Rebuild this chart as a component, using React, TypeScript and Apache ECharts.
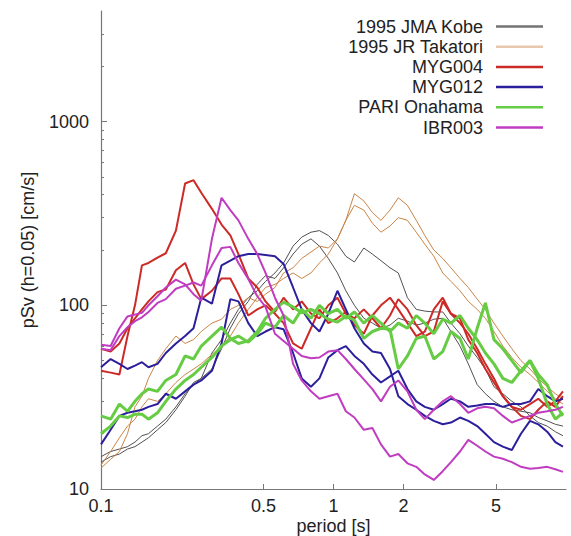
import { useEffect, useRef } from "react";
import * as echarts from "echarts";

// Periods [s] shared by all curves
const PERIODS = [0.1, 0.11, 0.12, 0.13, 0.14, 0.15, 0.16, 0.175, 0.19, 0.21, 0.23, 0.25, 0.27, 0.3, 0.33, 0.36, 0.39, 0.43, 0.47, 0.51, 0.56, 0.61, 0.67, 0.73, 0.8, 0.87, 0.95, 1.04, 1.13, 1.23, 1.35, 1.47, 1.6, 1.75, 1.9, 2.08, 2.27, 2.47, 2.7, 2.95, 3.2, 3.5, 3.8, 4.15, 4.5, 4.9, 5.35, 5.85, 6.4, 7.0, 7.6, 8.3, 9.0, 9.7];

// pSv [cm/s], two horizontal components per station
const KOBE_1 = [15, 16, 16.5, 17, 18, 19.5, 20, 22, 24, 28, 33, 37, 40, 55, 65, 80, 95, 110, 120, 135, 150, 170, 210, 235, 250, 255, 240, 215, 185, 172, 205, 190, 175, 160, 150, 110, 95, 93, 92, 92, 80, 70, 60, 52, 45, 36, 33, 30, 28, 25, 23, 22, 20.5, 19.5];
const KOBE_2 = [14, 15, 15.5, 16.5, 17, 18, 19, 21, 23, 27, 32, 38, 40, 45, 58, 75, 90, 105, 130, 145, 140, 160, 190, 215, 230, 210, 180, 150, 120, 100, 85, 80, 75, 78, 85, 82, 78, 80, 84, 85, 72, 60, 48, 37, 33, 30, 28, 27, 26.5, 26, 24.5, 23.5, 22.5, 22];
const TAKATORI_1 = [13, 14.5, 16, 20, 28, 32, 40, 50, 58, 68, 62, 65, 72, 80, 84, 95, 100, 110, 105, 115, 125, 150, 160, 180, 195, 210, 205, 230, 290, 405, 370, 320, 290, 330, 385, 350, 290, 240, 200, 180, 160, 140, 125, 108, 95, 80, 68, 58, 50, 45, 40, 36, 33, 31];
const TAKATORI_2 = [13.5, 16, 19, 22, 24, 28, 31, 30, 33, 38, 42, 45, 48, 54, 60, 68, 80, 95, 110, 125, 130, 140, 150, 140, 150, 170, 190, 230, 290, 350, 330, 280, 250, 270, 300, 290, 250, 215, 185, 150, 135, 120, 105, 95, 85, 72, 60, 52, 46, 42, 38, 34, 31, 29];
const MYG004_1 = [44, 43, 42, 68, 100, 165, 170, 182, 192, 255, 460, 480, 410, 335, 275, 240, 190, 140, 125, 105, 92, 110, 95, 105, 90, 85, 100, 110, 90, 85, 95, 85, 75, 88, 108, 95, 78, 68, 72, 105, 90, 80, 70, 58, 48, 40, 32, 28, 25, 24, 27, 30, 28, 32];
const MYG004_2 = [58, 56, 62, 75, 85, 95, 105, 118, 122, 155, 170, 130, 108, 120, 140, 140, 115, 88, 95, 100, 90, 80, 62, 58, 75, 95, 80, 85, 92, 78, 70, 88, 100, 110, 95, 80, 68, 72, 95, 110, 90, 85, 65, 55, 45, 38, 32, 28, 27, 29, 31, 28, 30, 34];
const MYG012_1 = [46, 51, 48, 45, 47, 49, 46, 48, 55, 62, 68, 75, 110, 102, 165, 175, 185, 190, 190, 188, 185, 168, 125, 95, 80, 72, 90, 120, 95, 75, 62, 56, 55, 45, 32, 29, 27, 25, 23.5, 22.5, 23, 24.5, 23.5, 22, 20, 18, 17, 16.3, 20, 23.5, 22.5, 20.5, 18, 17];
const MYG012_2 = [17.5, 21, 25, 26, 26.5, 27, 28, 29, 33, 31, 34, 37, 39, 44, 62, 108, 105, 80, 68, 72, 76, 74, 55, 40, 36, 40, 52, 57, 60, 53, 48, 42, 38, 41, 44, 35, 30, 28, 27, 29, 31, 30, 28, 28.5, 29, 29, 28, 29, 29, 30, 35, 32, 30, 31];
const PARI_1 = [25, 24, 29, 26.5, 30, 33, 35, 34, 39, 42, 53, 51, 60, 68, 76, 66, 62, 64, 72, 85, 95, 104, 98, 91, 95, 90, 84, 81, 87, 83, 66, 72, 75, 74, 45, 53, 66, 68, 51, 56, 72, 66, 51, 75, 103, 65, 58, 50, 43, 50, 42, 37, 29, 25];
const PARI_2 = [20, 22, 25, 24.5, 25.5, 25.5, 24, 26, 30, 35, 39, 42, 46, 52, 60, 65, 68, 63, 70, 80, 76, 88, 80, 95, 85, 100, 90, 95, 85, 92, 80, 88, 80, 72, 80, 75, 88, 80, 70, 84, 80, 88, 75, 65, 55, 48, 40, 38, 44, 50, 40, 29, 24, 26];
const IBR003_1 = [61, 60, 75, 87, 89, 91, 100, 112, 125, 138, 130, 115, 106, 230, 385, 330, 290, 230, 190, 150, 110, 88, 48, 39, 34, 31, 32, 33, 26.5, 24.5, 21, 21.5, 17.5, 15, 15.5, 13.8, 13.2, 12, 11.2, 12.5, 14, 16, 18.5, 17.2, 16, 15, 14.6, 14, 13.2, 12.9, 13, 13.2, 12.8, 12.4];
const IBR003_2 = [58, 57, 68, 76, 82, 86, 92, 103, 108, 123, 128, 133, 128, 165, 205, 208, 170, 139, 112, 98, 70, 64, 58, 53, 51.5, 52, 56, 57, 51, 45, 39.5, 35, 30, 36, 39, 34, 27, 24, 27, 30, 32, 29, 26, 27.5, 28, 27.5, 25, 23, 24, 25, 26, 26.5, 27, 28];

const X_LABELS = [0.1, 0.5, 1, 2, 5];
const X_TICKS = [0.5, 1, 2, 5];
const Y_LABELS = [10, 100, 1000];
const Y_MINOR_TICKS = [20, 30, 40, 50, 60, 70, 80, 90, 200, 300, 400, 500, 600, 700, 800, 900, 2000, 3000];

const STATIONS = [
  { name: "1995 JMA Kobe", color: "#505050", width: 1, legendOpacity: 0.8, curves: [KOBE_1, KOBE_2] },
  { name: "1995 JR Takatori", color: "#c98446", width: 1, legendOpacity: 0.45, curves: [TAKATORI_1, TAKATORI_2] },
  { name: "MYG004", color: "#cc2a26", width: 2, legendOpacity: 1, curves: [MYG004_1, MYG004_2] },
  { name: "MYG012", color: "#2c1f9c", width: 2, legendOpacity: 1, curves: [MYG012_1, MYG012_2] },
  { name: "PARI Onahama", color: "#66cc44", width: 3, legendOpacity: 1, curves: [PARI_1, PARI_2] },
  { name: "IBR003", color: "#c03cc0", width: 2, legendOpacity: 1, curves: [IBR003_1, IBR003_2] },
];

const FONT = "'Liberation Sans', Arial, sans-serif";

export default function App() {
  const ref = useRef<HTMLDivElement>(null);
  useEffect(() => {
    if (!ref.current) return;
    const chart = echarts.init(ref.current, undefined, { renderer: "svg" });
    const series: any[] = [];
    STATIONS.forEach((st) => {
      st.curves.forEach((vals) => {
        series.push({
          type: "line",
          name: st.name,
          data: PERIODS.map((p, i) => [p, vals[i]]),
          symbol: "none",
          showSymbol: false,
          lineStyle: { color: st.color, width: st.width },
          itemStyle: { color: st.color },
        });
      });
    });
    chart.setOption({
      animation: false,
      backgroundColor: "#ffffff",
      grid: { left: 101, right: 5, top: 11, bottom: 47, outerBoundsMode: "none", containLabel: false },
      legend: {
        data: STATIONS.map((s) => ({ name: s.name, itemStyle: { color: s.color, opacity: s.legendOpacity } })),
        orient: "vertical",
        right: 28,
        top: 17.5,
        padding: 0,
        align: "right",
        icon: "rect",
        itemWidth: 47,
        itemHeight: 2.5,
        itemGap: 2.2,
        textStyle: { fontSize: 18, lineHeight: 17, color: "#222", fontFamily: FONT, padding: [0, 8, 0, 0] },
      },
      xAxis: {
        type: "log",
        logBase: 10,
        min: 0.1,
        max: 10,
        name: "period [s]",
        nameLocation: "middle",
        nameGap: 28,
        nameMoveOverlap: false,
        nameTextStyle: { fontSize: 18, color: "#222", fontFamily: FONT },
        axisLine: { show: true, lineStyle: { color: "#777", width: 1.2 } },
        axisTick: { show: true, inside: true, length: 5, lineStyle: { color: "#777" }, customValues: X_TICKS },
        axisLabel: { fontSize: 18, color: "#222", fontFamily: FONT, margin: 8, customValues: X_LABELS, formatter: (v: number) => String(v) },
        splitLine: { show: false },
      },
      yAxis: [
        {
          type: "log",
          logBase: 10,
          min: 10,
          max: 4000,
          name: "pSv (h=0.05) [cm/s]",
          nameLocation: "middle",
          nameGap: 64,
          nameMoveOverlap: false,
          nameTextStyle: { fontSize: 18, color: "#222", fontFamily: FONT },
          axisLine: { show: true, lineStyle: { color: "#777", width: 1.2 } },
          axisTick: { show: true, inside: true, length: 6, lineStyle: { color: "#777" }, customValues: Y_LABELS },
          axisLabel: { fontSize: 18, color: "#222", fontFamily: FONT, margin: 12, customValues: Y_LABELS, formatter: (v: number) => String(v) },
          splitLine: { show: false },
        },
        {
          type: "log",
          logBase: 10,
          min: 10,
          max: 4000,
          position: "left",
          axisLine: { show: false },
          axisTick: { show: true, inside: true, length: 3, lineStyle: { color: "#777" }, customValues: Y_MINOR_TICKS },
          axisLabel: { show: false },
          splitLine: { show: false },
        },
      ],
      series,
    });
    return () => chart.dispose();
  }, []);
  return <div ref={ref} style={{ position: "fixed", left: 0, top: 0, width: 571, height: 536, background: "#fff" }} />;
}
